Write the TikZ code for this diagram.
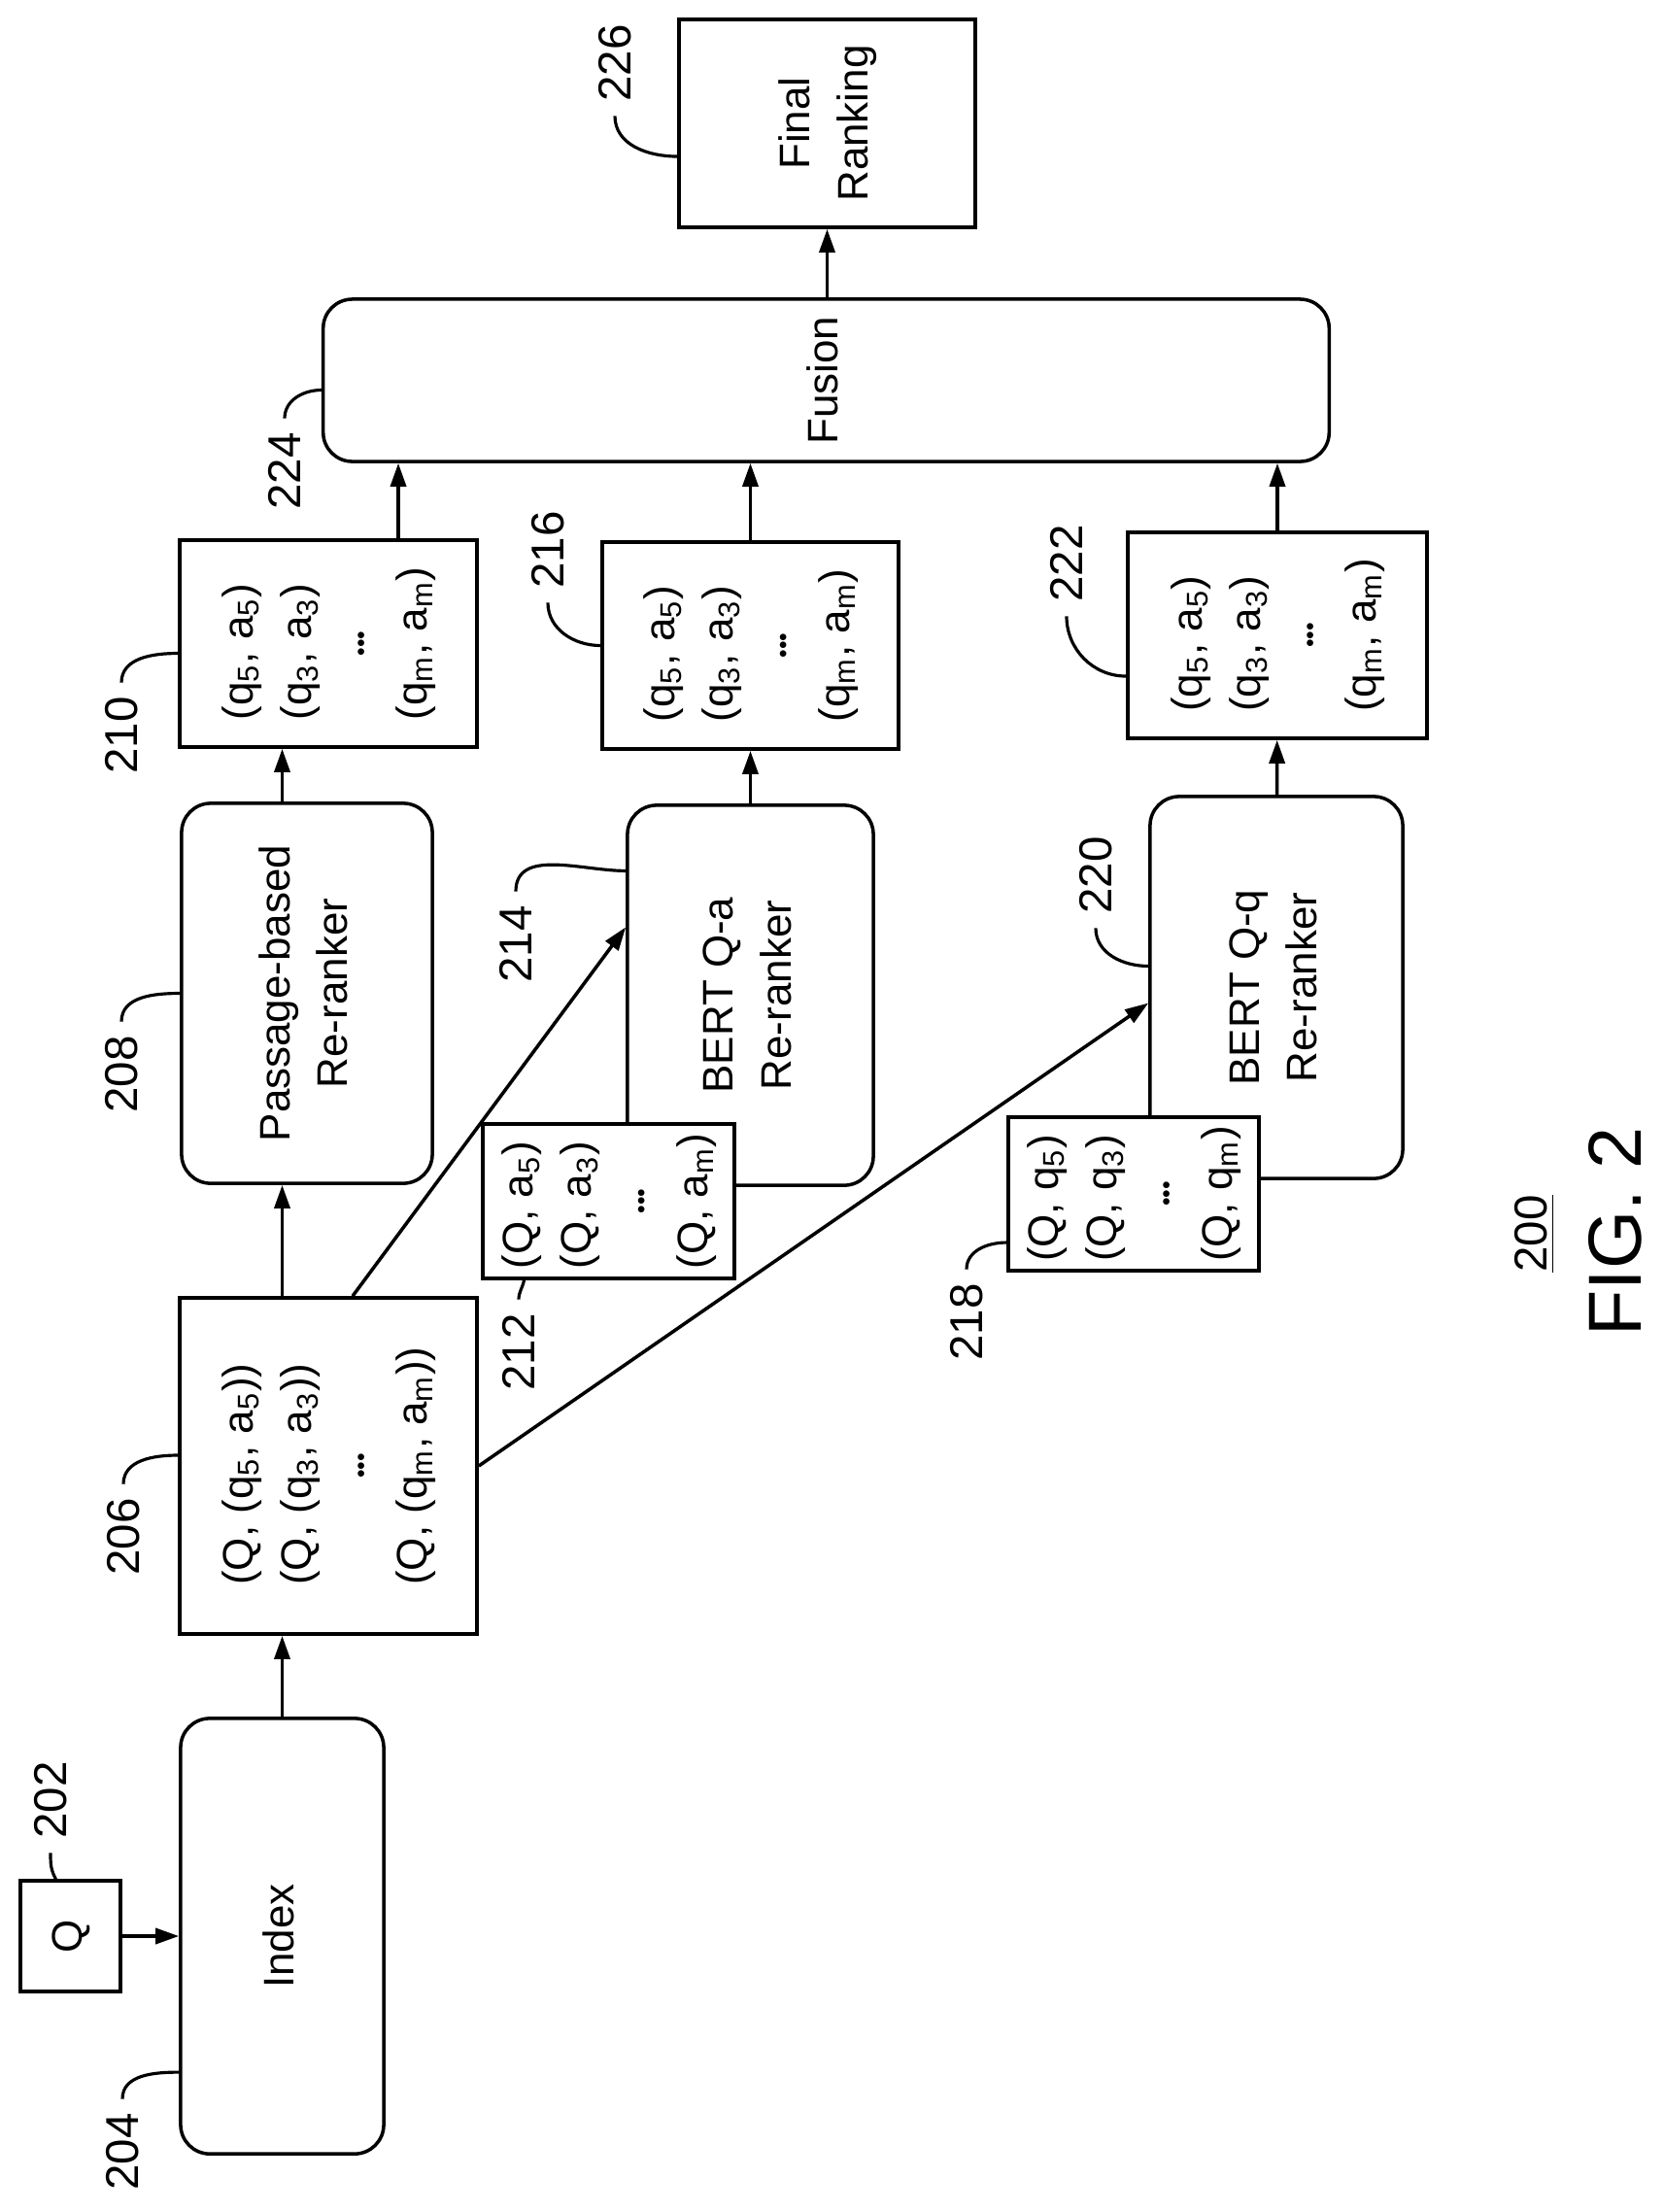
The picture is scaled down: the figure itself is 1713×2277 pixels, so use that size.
\documentclass[tikz,border=0pt]{standalone}
\usepackage{fontspec}
\setmainfont{Liberation Sans}
\usetikzlibrary{arrows.meta}
\newcommand\rt[1]{\rotatebox{90}{\begin{tabular}{@{}c@{}}#1\end{tabular}}}
\newcommand\rl[1]{\rotatebox{90}{\begin{tabular}{@{}l@{}}#1\end{tabular}}}
\newcommand\dts{\multicolumn{1}{c}{\scriptsize\textbullet\textbullet\textbullet}}
\newcommand\sub[1]{\textsubscript{#1}}

\begin{document}
\begin{tikzpicture}[x=0.01cm, y=-0.01cm,
  blk/.style={draw, rounded corners=0.3cm, line width=1pt, fill=white, inner sep=0pt, font=\fontsize{12.5}{17}\selectfont},
  lst/.style={draw, line width=1pt, fill=white, inner sep=0pt, font=\fontsize{12.5}{17}\selectfont},
  num/.style={rotate=90, inner sep=4pt, font=\fontsize{13.5}{16}\selectfont},
  ld/.style={line width=0.9pt},
  ar/.style={line width=1pt, -{Triangle[length=0.24cm,width=0.16cm]}}]
  \useasboundingbox (0,0) rectangle (1713,2277);
  % boxes
  \node[lst, minimum width=1.03cm, minimum height=1.14cm] (Q) at (72.5,1993) {\rt{Q}};
  \node[blk, minimum width=2.09cm, minimum height=4.48cm] (idx) at (290.5,1993) {\rt{Index}};
  \node[lst, minimum width=3.06cm, minimum height=3.46cm] (l206) at (338,1509)
    {\rl{(Q, (q\sub{5}, a\sub{5}))\\(Q, (q\sub{3}, a\sub{3}))\\\dts\\(Q, (q\sub{m}, a\sub{m}))}};
  \node[blk, minimum width=2.58cm, minimum height=3.91cm] (pas) at (316,1022.5) {\rt{Passage-based\\Re-ranker}};
  \node[lst, minimum width=3.06cm, minimum height=2.13cm] (l210) at (338,662.5)
    {\rl{(q\sub{5}, a\sub{5})\\(q\sub{3}, a\sub{3})\\\dts\\(q\sub{m}, a\sub{m})}};
  \node[blk, minimum width=2.53cm, minimum height=3.91cm] (qa) at (772.5,1024.5) {\rt{BERT Q-a\\Re-ranker}};
  \node[lst, minimum width=3.05cm, minimum height=2.13cm] (l216) at (772.5,664.5)
    {\rl{(q\sub{5}, a\sub{5})\\(q\sub{3}, a\sub{3})\\\dts\\(q\sub{m}, a\sub{m})}};
  \node[blk, minimum width=2.6cm, minimum height=3.93cm] (qq) at (1314,1016.5) {\rt{BERT Q-q\\Re-ranker}};
  \node[lst, minimum width=3.08cm, minimum height=2.12cm] (l222) at (1315,654)
    {\rl{(q\sub{5}, a\sub{5})\\(q\sub{3}, a\sub{3})\\\dts\\(q\sub{m}, a\sub{m})}};
  \node[blk, minimum width=10.35cm, minimum height=1.67cm] (fus) at (850.5,391.5) {\rt{Fusion}};
  \node[lst, minimum width=3.05cm, minimum height=2.14cm] (fin) at (851.5,127) {\rt{Final\\Ranking}};
  % connectors
  \draw[ar] (Q) -- (idx);
  \draw[ar] (idx) -- (idx |- l206.south);
  \draw[ar] (l206.north -| idx) -- (pas.south -| idx);
  \draw[ar] (pas.north -| idx) -- (l210.south -| idx);
  \draw[ar] ([xshift=0.72cm]l210.north) -- ([xshift=0.72cm]l210.north |- fus.south);
  \draw[ar] (qa) -- (l216);
  \draw[ar] (l216) -- (fus.south -| l216);
  \draw[ar] (qq) -- (l222);
  \draw[ar] (l222) -- (fus.south -| l222);
  \draw[ar] (fus.north -| fin) -- (fin);
  \draw[ar] ([xshift=0.25cm]l206.north) -- ([yshift=0.7cm]qa.west);
  \draw[ar] (l206.east) -- ([yshift=-0.16cm]qq.west);
  % inputs drawn over the re-rankers
  \node[lst, minimum width=2.59cm, minimum height=1.59cm] (l212) at (626.5,1236.5)
    {\rl{(Q, a\sub{5})\\(Q, a\sub{3})\\\dts\\(Q, a\sub{m})}};
  \node[lst, minimum width=2.58cm, minimum height=1.58cm] (l218) at (1167,1229)
    {\rl{(Q, q\sub{5})\\(Q, q\sub{3})\\\dts\\(Q, q\sub{m})}};
  % reference numerals
  \node[num] (n202) at (52,1853) {202};
  \node[num] (n204) at (126,2215) {204};
  \node[num] (n206) at (127,1582) {206};
  \node[num] (n208) at (125,1106) {208};
  \node[num] (n210) at (125,757) {210};
  \node[num] (n212) at (534,1392) {212};
  \node[num] (n214) at (531,972) {214};
  \node[num] (n216) at (564,566) {216};
  \node[num] (n218) at (995,1361) {218};
  \node[num] (n220) at (1128,901) {220};
  \node[num] (n222) at (1098,580) {222};
  \node[num] (n224) at (293,485) {224};
  \node[num] (n226) at (633,65) {226};
  \draw[ld] (n202.west) to[out=-90,in=120] ([xshift=-0.15cm]Q.north);
  \draw[ld] (n204.east) to[out=90,in=180] ([yshift=-1.4cm]idx.west);
  \draw[ld] (n206.east) to[out=90,in=180] ([yshift=0.11cm]l206.west);
  \draw[ld] (n208.east) to[out=90,in=180] (pas.west);
  \draw[ld] (n210.east) to[out=90,in=180] ([yshift=-0.1cm]l210.west);
  \draw[ld] (n212.east) to[out=90,in=-100] ([xshift=-0.87cm]l212.south);
  \draw[ld] (n214.east) to[out=90,in=180] ([yshift=1.28cm]qa.west);
  \draw[ld] (n216.west) to[out=-90,in=180] (l216.west);
  \draw[ld] (n218.east) to[out=90,in=180] ([yshift=-0.5cm]l218.west);
  \draw[ld] (n220.west) to[out=-90,in=180] ([yshift=0.22cm]qq.west);
  \draw[ld] (n222.west) to[out=-90,in=180] ([yshift=-0.42cm]l222.west);
  \draw[ld] (n224.east) to[out=90,in=180] ([yshift=-0.1cm]fus.west);
  \draw[ld] (n226.west) to[out=-90,in=180] ([yshift=-0.34cm]fin.west);
  % figure caption
  \node[num] (n200) at (1580,1270) {\underline{200}};
  \node[rotate=90, font=\fontsize{22}{26}\selectfont] (fig) at (1663,1268) {FIG. 2};
\end{tikzpicture}
\end{document}
